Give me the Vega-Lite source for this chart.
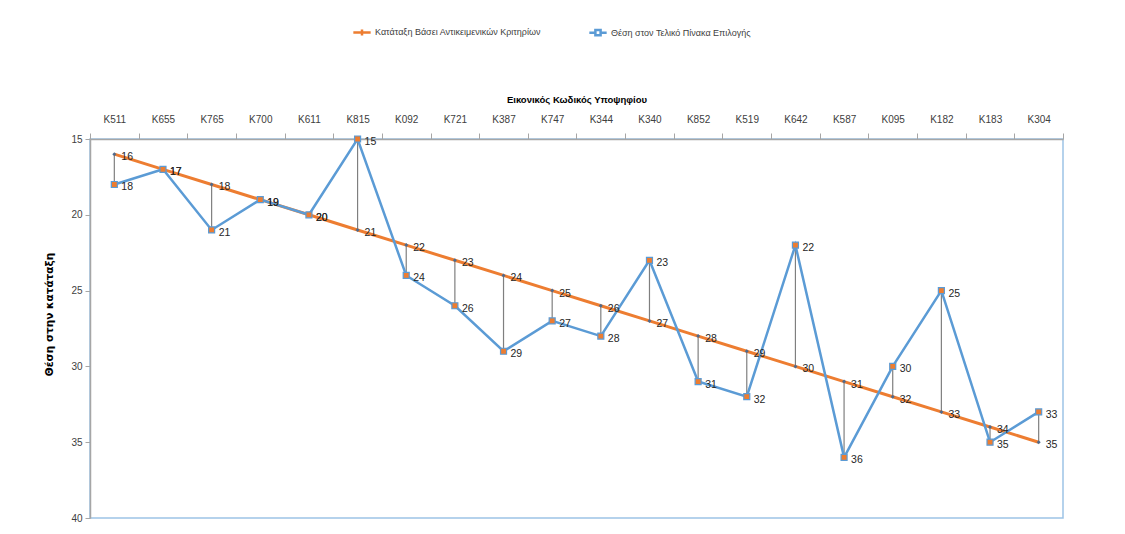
{
  "$schema": "https://vega.github.io/schema/vega-lite/v6.json",
  "width": 973,
  "height": 379,
  "autosize": {"type": "none"},
  "padding": {"left": 90, "top": 139, "right": 62, "bottom": 16},
  "background": "white",
  "config": {
    "view": {"stroke": "#9DC3E6", "strokeWidth": 1.5},
    "font": "Liberation Sans",
    "axis": {
      "domainColor": "#A6A6A6",
      "domainWidth": 1.5,
      "tickColor": "#A6A6A6",
      "tickSize": 6,
      "grid": false,
      "labelFont": "Liberation Sans",
      "labelFontSize": 10,
      "labelColor": "#404040",
      "titleColor": "#000000"
    }
  },
  "data": {
    "values": [
      {"code": "K511", "objective": 16, "final": 18},
      {"code": "K655", "objective": 17, "final": 17},
      {"code": "K765", "objective": 18, "final": 21},
      {"code": "K700", "objective": 19, "final": 19},
      {"code": "K611", "objective": 20, "final": 20},
      {"code": "K815", "objective": 21, "final": 15},
      {"code": "K092", "objective": 22, "final": 24},
      {"code": "K721", "objective": 23, "final": 26},
      {"code": "K387", "objective": 24, "final": 29},
      {"code": "K747", "objective": 25, "final": 27},
      {"code": "K344", "objective": 26, "final": 28},
      {"code": "K340", "objective": 27, "final": 23},
      {"code": "K852", "objective": 28, "final": 31},
      {"code": "K519", "objective": 29, "final": 32},
      {"code": "K642", "objective": 30, "final": 22},
      {"code": "K587", "objective": 31, "final": 36},
      {"code": "K095", "objective": 32, "final": 30},
      {"code": "K182", "objective": 33, "final": 25},
      {"code": "K183", "objective": 34, "final": 35},
      {"code": "K304", "objective": 35, "final": 33}
    ]
  },
  "encoding": {
    "x": {
      "field": "code",
      "type": "nominal",
      "sort": null,
      "scale": {"type": "band", "paddingInner": 0, "paddingOuter": 0},
      "axis": {
        "orient": "top",
        "title": "Εικονικός Κωδικός Υποψηφίου",
        "titleFont": "Liberation Sans",
        "titleFontSize": 9.5,
        "titleFontWeight": "bold",
        "titlePadding": 10,
        "labelAngle": 0,
        "labelPadding": 9,
        "tickBand": "extent"
      }
    }
  },
  "layer": [
    {
      "mark": {"type": "rule", "color": "#7F7F7F", "strokeWidth": 1.2},
      "encoding": {
        "y": {
          "field": "objective",
          "type": "quantitative",
          "scale": {"domain": [15, 40], "reverse": true, "nice": false, "zero": false},
          "axis": {
            "title": "Θέση στην κατάταξη",
            "values": [15, 20, 25, 30, 35, 40],
            "titleFont": "DejaVu Sans",
            "titleFontSize": 10.5,
            "titleFontWeight": "bold",
            "titleX": -36,
            "titleY": 175,
            "labelPadding": 3,
            "tickSize": 5
          }
        },
        "y2": {"field": "final"}
      }
    },
    {
      "mark": {"type": "line", "color": "#ED7D31", "strokeWidth": 3},
      "encoding": {"y": {"field": "objective", "type": "quantitative"}}
    },
    {
      "mark": {"type": "line", "color": "#5B9BD5", "strokeWidth": 2.5},
      "encoding": {"y": {"field": "final", "type": "quantitative"}}
    },
    {
      "mark": {"type": "point", "shape": "diamond", "filled": true, "size": 16, "color": "#4F6A8C", "opacity": 1},
      "encoding": {"y": {"field": "objective", "type": "quantitative"}}
    },
    {
      "mark": {"type": "point", "shape": "square", "filled": true, "size": 36, "fill": "#ED7D31", "stroke": "#5B9BD5", "strokeWidth": 1.2, "opacity": 1},
      "encoding": {"y": {"field": "final", "type": "quantitative"}}
    },
    {
      "mark": {"type": "text", "align": "left", "baseline": "middle", "dx": 7, "dy": 3, "font": "Liberation Sans", "fontSize": 10.5, "color": "#262626"},
      "encoding": {
        "y": {"field": "objective", "type": "quantitative"},
        "text": {"field": "objective", "type": "quantitative"}
      }
    },
    {
      "mark": {"type": "text", "align": "left", "baseline": "middle", "dx": 7, "dy": 3, "font": "Liberation Sans", "fontSize": 10.5, "color": "#262626"},
      "encoding": {
        "y": {"field": "final", "type": "quantitative"},
        "text": {"field": "final", "type": "quantitative"}
      }
    },
    {
      "transform": [{"fold": ["objective", "final"], "as": ["series", "value"]}],
      "mark": {"type": "point", "opacity": 0, "filled": false, "strokeWidth": 2.5},
      "encoding": {
        "y": {"field": "value", "type": "quantitative"},
        "color": {
          "field": "series",
          "type": "nominal",
          "scale": {"domain": ["objective", "final"], "range": ["#ED7D31", "#5B9BD5"]},
          "legend": {
            "orient": "none",
            "direction": "horizontal",
            "legendX": 262,
            "legendY": -117,
            "title": null,
            "symbolOpacity": 1,
            "symbolSize": 300,
            "symbolStrokeWidth": 2.5,
            "labelOffset": 3,
            "labelLimit": 400,
            "columnPadding": 40,
            "labelFont": "Liberation Sans",
            "labelFontSize": 9,
            "labelColor": "#404040",
            "labelExpr": "datum.label == 'objective' ? 'Κατάταξη  Βάσει Αντικειμενικών Κριτηρίων' : 'Θέση στον Τελικό Πίνακα Επιλογής'"
          }
        },
        "shape": {
          "field": "series",
          "type": "nominal",
          "scale": {"domain": ["objective", "final"], "range": ["M-1,0H1M0,-0.35V0.35", "M-1,0H-0.3M0.3,0H1M-0.3,-0.3H0.3V0.3H-0.3Z"]}
        }
      }
    }
  ]
}
